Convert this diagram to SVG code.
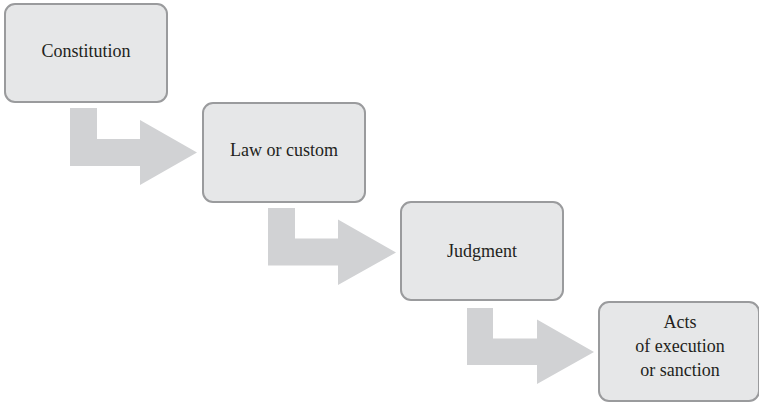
<svg xmlns="http://www.w3.org/2000/svg" width="759" height="403" viewBox="0 0 759 403">
<style>
.box{fill:#e6e7e8;stroke:#9a9b9d;stroke-width:2}
.arr{fill:#d1d2d4}
.t{font-size:18px;fill:#231f20;text-anchor:middle}
</style>
<rect width="759" height="403" fill="#ffffff"/>
<g id="connectors">
<polygon class="arr" points="70,108 97,108 97,139 140,139 140,120 197,152.5 140,185 140,166 70,166"/>
<polygon class="arr" points="268,208 295,208 295,238.5 338,238.5 338,219.5 396,252.5 338,285 338,265.5 268,265.5"/>
<polygon class="arr" points="467,308 493,308 493,338.5 537,338.5 537,319.5 594,352 537,384 537,365 467,365"/>
</g>
<g font-family="Liberation Serif, DejaVu Serif, serif">
<g id="constitution">
<rect class="box" x="5" y="4" width="162" height="98" rx="10"/>
<text class="t" x="86" y="57">Constitution</text>
</g>
<g id="law">
<rect class="box" x="203" y="103" width="162" height="99" rx="10"/>
<text class="t" x="284" y="156">Law or custom</text>
</g>
<g id="judgment">
<rect class="box" x="401" y="202" width="162" height="98" rx="10"/>
<text class="t" x="482" y="257">Judgment</text>
</g>
<g id="acts">
<rect class="box" x="599" y="302" width="160" height="99" rx="10"/>
<text class="t" x="680" y="328">Acts</text>
<text class="t" x="680" y="352">of execution</text>
<text class="t" x="680" y="376">or sanction</text>
</g>
</g>
</svg>
